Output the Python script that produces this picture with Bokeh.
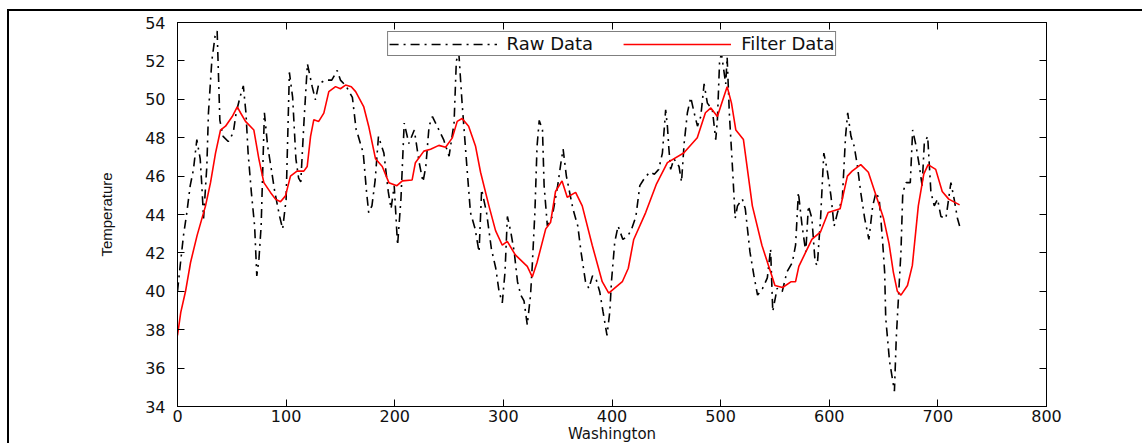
from bokeh.plotting import figure
from bokeh.models import Range1d, FixedTicker, LinearAxis, Legend
from bokeh.embed import file_html
from bokeh.resources import INLINE

# ---------------- data ----------------
raw_x = [0, 2.5, 5.5, 8.6, 11.7, 14.7, 17.8, 20.9, 22.4, 24, 27, 28.5, 31.6, 34.6, 36.5, 37.6, 39, 42, 46.7,
         51.3, 54, 57.5, 60.6, 63, 65, 68, 71, 73, 75, 77, 80, 83, 86, 89.5, 94, 96.8, 100, 103, 106,
         109, 111.5, 113.5, 116.5, 119.6, 124, 127, 130, 136, 142, 147, 150, 155, 161, 164.5, 166,
         171, 174, 176, 179, 182, 185, 190, 194, 196.6, 199.5, 202.6, 205.7, 208.7, 213, 218, 222.5,
         226, 228.6, 231.6, 234.7, 239, 245, 250, 254.6, 256.7, 259, 262, 266.6, 269.7, 274, 277.6,
         280, 284.5, 289, 293, 296, 299, 301.5, 303.7, 306.8, 310, 313, 316, 319, 322, 325, 326.6,
         329, 331, 333, 336, 337.5, 340.5, 345, 350, 353, 355, 358, 364, 368.5, 371.5, 375.6, 378.7,
         382, 385, 388.7, 391.7, 395.4, 398, 399.5, 402.5, 405.6, 410, 414.7, 417.8, 422, 425.6, 430,
         434.7, 439, 443, 446.4, 449.4, 451, 452.4, 454, 457, 461.7, 464, 466.4, 469.4, 472.5, 475.6,
         478.7, 481.7, 484.8, 487.8, 492.4, 495.5, 497, 499, 500.7, 504.7, 506, 508, 511, 513.4, 515.5,
         520, 522.7, 525, 527, 530.7, 534, 538.6, 543, 546, 548, 552, 556.7, 561, 566, 569, 571.6, 575,
         578.4, 580.8, 584, 587, 589, 592, 595, 598, 601.5, 604.5, 607.6, 612, 615, 617, 620, 623, 626,
         629, 632.6, 636.5, 640, 643, 646, 649, 651, 652, 655.5, 660, 661.7, 664, 666, 667.7, 670.8,
         674.6, 676.8, 680, 683, 685.5, 687.5, 690.6, 693.6, 696.7, 699.7, 702.8, 707.4, 712, 715, 718,
         720]
raw_y = [40.0, 41.35, 42.9, 44.1, 45.5, 46.35, 47.9, 46.9, 45.5, 43.8, 46.5, 49.3, 52.0, 53.3, 53.55, 51.5,
         48.9, 48.07, 47.8, 48.25, 49.3, 50.1, 50.7, 49.3, 47.2, 45.15, 43.4, 40.8, 41.7, 43.4, 49.3,
         47.55, 46.5, 45.2, 43.9, 43.25, 44.8, 51.4, 50.1, 46.9, 45.9, 45.7, 48.9, 51.85, 50.66, 49.97,
         50.8, 51.0, 51.0, 51.5, 51.0, 50.7, 50.1, 48.4, 48.16, 47.2, 45.2, 44.1, 44.45, 45.8, 48.07,
         47.2, 45.2, 44.3, 45.5, 42.4, 44.8, 48.76, 47.7, 48.4, 46.7, 45.7, 46.5, 48.6, 49.1, 48.6,
         47.9, 47.04, 48.76, 52.0, 52.4, 49.8, 46.35, 44.1, 43.25, 42.05, 45.3, 44.1, 42.2, 41.2, 40.0,
         39.4, 41.0, 43.9, 43.1, 42.05, 40.5, 39.8, 39.5, 38.25, 39.8, 41.35, 44.1, 47.55, 48.9, 48.4,
         45.5, 43.4, 43.9, 45.5, 46.7, 47.4, 46.0, 44.3, 43.4, 42.05, 40.5, 40.15, 40.8, 40.7, 39.98,
         38.95, 37.7, 38.95, 40.5, 42.55, 43.4, 42.7, 42.9, 43.2, 43.9, 45.5, 45.9, 46.2, 46.1, 46.35,
         47.2, 49.45, 48.6, 47.4, 46.35, 46.9, 46.5, 45.7, 47.7, 49.3, 50.1, 49.3, 48.6, 49.1, 50.8,
         49.8, 49.45, 47.9, 48.9, 51.9, 52.4, 50.8, 52.2, 49.3, 46.35, 43.8, 44.45, 44.8, 44.3, 43.1,
         42.05, 40.8, 39.8, 40.15, 40.7, 42.2, 38.95, 40.15, 39.98, 41.0, 41.5, 42.4, 45.15, 43.4,
         42.05, 44.45, 43.8, 41.5, 41.35, 43.8, 47.2, 46.35, 45.0, 43.4, 44.1, 44.8, 48.07, 49.3, 48.07,
         47.55, 46.5, 45.15, 43.8, 42.7, 44.45, 45.15, 44.8, 42.7, 41.0, 38.6, 36.36, 34.8, 37.57,
         39.98, 42.05, 45.15, 45.66, 45.66, 48.4, 47.55, 46.5, 45.5, 47.7, 48.07, 45.15, 44.45, 44.8,
         43.9, 43.8, 45.66, 44.8, 43.8, 43.4]

filt_x = [0, 3, 7.4, 12, 18, 25.8, 30.4, 35, 39.6, 44.2, 50.4, 55, 58, 62.6, 70.3, 74.9, 79.5, 85.6, 90.2,
          94.8, 99.4, 104, 110, 116.3, 119.4, 122.5, 125.5, 130, 134.7, 139.3, 145.5, 150, 154.7, 160,
          164, 171.5, 176, 182.3, 188.5, 194.6, 202, 207, 216, 219, 226.8, 233, 240.6, 246.8, 253,
          257.5, 262, 268, 274.4, 279, 286.7, 292.8, 299, 303.6, 311, 322, 326.6, 331, 339, 343.5, 348,
          354, 358.8, 366.5, 372.6, 381.8, 391, 397, 409.5, 415, 420, 431, 441, 451, 466, 478.5, 486,
          491, 497, 501, 506, 510, 514, 521, 529.2, 538, 546, 550, 557, 565, 569, 572, 584, 592, 599,
          610, 616.7, 621, 629, 636, 643, 650, 655, 659, 662.7, 666, 672, 676.5, 682, 687, 691, 698,
          704, 710, 720]
filt_y = [37.7, 38.9, 40.0, 41.5, 42.9, 44.45, 45.66, 47.2, 48.4, 48.6, 49.1, 49.6, 49.3, 48.85, 48.4,
          46.9, 45.66, 45.15, 44.8, 44.66, 44.97, 46.0, 46.26, 46.26, 46.5, 48.07, 48.94, 48.85, 49.28,
          50.4, 50.66, 50.55, 50.74, 50.65, 50.4, 49.6, 48.6, 46.9, 46.5, 45.66, 45.5, 45.75, 45.8, 46.7,
          47.3, 47.4, 47.6, 47.5, 47.99, 48.85, 49.0, 48.6, 47.55, 46.2, 44.45, 43.16, 42.4, 42.6, 41.9,
          41.3, 40.75, 41.5, 43.25, 43.6, 45.2, 45.75, 44.9, 45.15, 44.45, 42.4, 40.5, 39.9, 40.5, 41.2,
          42.7, 44.1, 45.6, 46.7, 47.2, 48.0, 49.3, 49.55, 49.1, 49.8, 50.66, 49.8, 48.4, 47.9, 44.45,
          42.4, 41.0, 40.3, 40.2, 40.5, 40.5, 41.3, 42.7, 43.1, 44.1, 44.3, 46.0, 46.26, 46.6, 46.2,
          45.0, 43.8, 42.5, 41.0, 40.0, 39.8, 40.3, 41.35, 44.45, 46.1, 46.6, 46.35, 45.2, 44.8, 44.5]

x_ticks = [0, 100, 200, 300, 400, 500, 600, 700, 800]
y_ticks = [34, 36, 38, 40, 42, 44, 46, 48, 50, 52, 54]
series_names = ["Raw Data", "Filter Data"]
x_title = "Washington"
y_title = "Temperature"

# ---------------- figure ----------------
p = figure(width=1135, height=434, x_range=Range1d(0, 800), y_range=Range1d(34, 54),
           output_backend="svg", toolbar_location=None,
           min_border_left=168, min_border_right=98, min_border_top=11, min_border_bottom=36)
p.margin = (9, 0, 0, 7)
p.styles = {"border-top": "2px solid black", "border-left": "2px solid black",
            "border-right": "none", "border-bottom": "none", "outline": "none", "box-shadow": "none"}
p.background_fill_color = "white"
p.border_fill_color = "white"
p.outline_line_color = "black"
p.outline_line_width = 1
p.xgrid.visible = False
p.ygrid.visible = False

xa = p.below[0]
ya = p.left[0]
for ax, ticks in ((xa, x_ticks), (ya, y_ticks)):
    ax.ticker = FixedTicker(ticks=ticks, minor_ticks=[])
    ax.major_tick_in = 7
    ax.major_tick_out = 0
    ax.minor_tick_line_color = None
    ax.axis_line_color = "black"
    ax.major_tick_line_color = "black"
    ax.major_label_text_font = "DejaVu Sans"
    ax.major_label_text_font_size = "16px"
    ax.major_label_text_color = "#111111"
    ax.axis_label_text_font_style = "normal"
    ax.axis_label_text_color = "#111111"

xa.axis_label = x_title
xa.axis_label_text_font = "DejaVu Sans"
xa.axis_label_text_font_size = "15px"
xa.major_label_standoff = 3
xa.axis_label_standoff = 0

ya.axis_label = y_title
ya.axis_label_text_font = "Liberation Sans"
ya.axis_label_text_font_size = "15px"
ya.major_label_standoff = 12
ya.axis_label_standoff = 27

# tick-only axes on top and right (box with inward ticks); labels not painted
top = LinearAxis(ticker=FixedTicker(ticks=x_ticks, minor_ticks=[]), major_tick_in=7, major_tick_out=0,
                 minor_tick_line_color=None, major_label_text_font_size="1px",
                 major_label_text_color=None, major_label_standoff=0, axis_line_color="black")
right = LinearAxis(ticker=FixedTicker(ticks=y_ticks, minor_ticks=[]), major_tick_in=7, major_tick_out=0,
                   minor_tick_line_color=None, major_label_text_font_size="1px",
                   major_label_text_color=None, major_label_standoff=0, axis_line_color="black")
p.add_layout(top, "above")
p.add_layout(right, "right")

r_raw = p.line(raw_x, raw_y, line_color="black", line_width=1.6, line_dash="9 5 2 5")
r_filt = p.line(filt_x, filt_y, line_color="#ff0000", line_width=1.6)

legend = Legend(items=[(series_names[0], [r_raw]), (series_names[1], [r_filt])],
                orientation="horizontal", location="top_center", margin=9, padding=1,
                spacing=30, glyph_width=108, glyph_height=16, label_height=16, label_standoff=10,
                label_text_font="DejaVu Sans", label_text_font_size="18px", label_text_color="#111111",
                border_line_color="black", border_line_width=1, background_fill_color="white",
                background_fill_alpha=1)
p.add_layout(legend)

open("out.html", "w").write(file_html(p, INLINE))
